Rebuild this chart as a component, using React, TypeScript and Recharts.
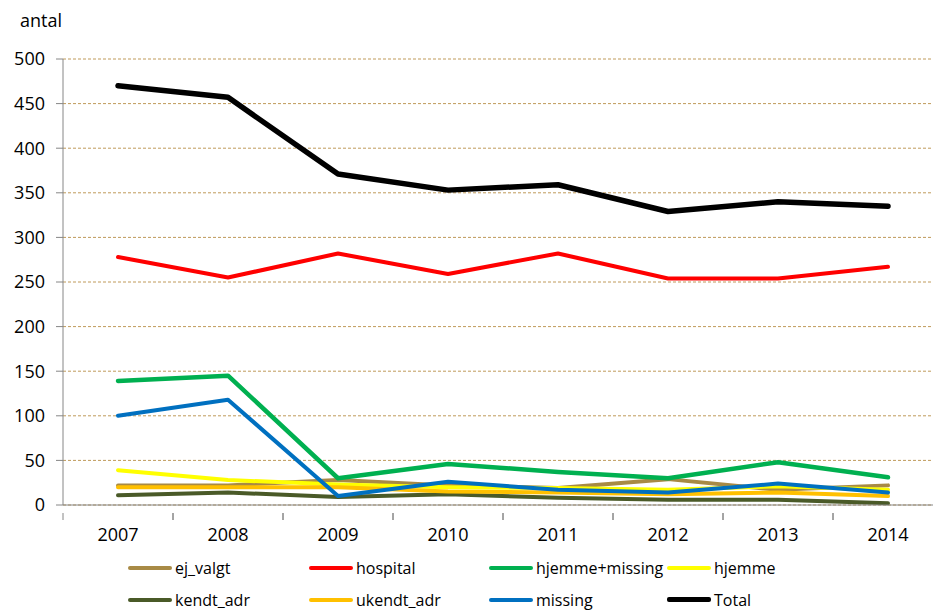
import React from "react";
import { LineChart, Line, XAxis, YAxis, CartesianGrid } from "recharts";

const years = ["2007", "2008", "2009", "2010", "2011", "2012", "2013", "2014"];

const ejValgt = [22, 22, 28, 22, 19, 29, 17, 22];
const hospital = [278, 255, 282, 259, 282, 254, 254, 267];
const hjemmeMissing = [139, 145, 30, 46, 37, 30, 48, 31];
const hjemme = [39, 28, 23, 20, 19, 17, 21, 17];
const kendtAdr = [11, 14, 9, 12, 8, 6, 6, 2];
const ukendtAdr = [20, 20, 20, 15, 14, 12, 14, 10];
const missing = [100, 118, 10, 26, 17, 14, 24, 14];
const total = [470, 457, 371, 353, 359, 329, 340, 335];

const yTicks = [0, 50, 100, 150, 200, 250, 300, 350, 400, 450, 500];

const SERIES = [
    { key: "ej_valgt", values: ejValgt, color: "#A88A45", width: 4 },
    { key: "hospital", values: hospital, color: "#FF0000", width: 4 },
    { key: "hjemme+missing", values: hjemmeMissing, color: "#00B050", width: 4.5 },
    { key: "hjemme", values: hjemme, color: "#FFFF00", width: 4 },
    { key: "kendt_adr", values: kendtAdr, color: "#4A5A28", width: 4 },
    { key: "ukendt_adr", values: ukendtAdr, color: "#FFC000", width: 4 },
    { key: "missing", values: missing, color: "#0070C0", width: 4 },
    { key: "Total", values: total, color: "#000000", width: 5.5 },
];

const data = years.map((year, i) => {
    const row: any = { year };
    SERIES.forEach((s) => { row[s.key] = s.values[i]; });
    return row;
});

// chart geometry (plot area runs past the right edge of the window, like the original)
const CHART_W = 950;
const CHART_H = 611;
const Y_AXIS_W = 63;
const RIGHT = 7;
const HALF_BAND = (CHART_W - Y_AXIS_W - RIGHT) / years.length / 2;
const FONT = "'Open Sans', sans-serif";
const AXIS_GREY = "#868686";

const YearTick = ({ x, y, payload }: any) => (
    <g>
        <line x1={x - HALF_BAND} y1={y} x2={x - HALF_BAND} y2={y + 7} stroke={AXIS_GREY} />
        <line x1={x + HALF_BAND} y1={y} x2={x + HALF_BAND} y2={y + 7} stroke={AXIS_GREY} />
        <text x={x} y={y + 28} textAnchor="middle" fill="#000" fontSize={18} fontFamily={FONT}>
            {payload.value}
        </text>
    </g>
);

export default function App() {
    return (
        <div style={{ position: "absolute", left: 0, top: 0, width: 933, height: 611, overflow: "hidden", background: "#fff", fontFamily: FONT }}>
            <div style={{ position: "absolute", left: 20, top: 8, fontSize: 18, color: "#000" }}>antal</div>
            <LineChart width={CHART_W} height={CHART_H} data={data} margin={{ top: 59, right: RIGHT, left: 0, bottom: 0 }}>
                <CartesianGrid vertical={false} stroke="#BF9A5A" strokeDasharray="3 2" />
                <XAxis
                    dataKey="year"
                    scale="band"
                    height={106}
                    axisLine={{ stroke: AXIS_GREY }}
                    tickLine={false}
                    tick={<YearTick />}
                    interval={0}
                />
                <YAxis
                    width={Y_AXIS_W}
                    domain={[0, 500]}
                    ticks={yTicks}
                    axisLine={{ stroke: AXIS_GREY }}
                    tickLine={{ stroke: AXIS_GREY }}
                    tickSize={7}
                    tickMargin={11}
                    tick={{ fill: "#000", fontSize: 18, fontFamily: FONT }}
                />
                {SERIES.map((s) => (
                    <Line
                        key={s.key}
                        dataKey={s.key}
                        stroke={s.color}
                        strokeWidth={s.width}
                        strokeLinecap="round"
                        strokeLinejoin="round"
                        dot={false}
                        isAnimationActive={false}
                    />
                ))}
            </LineChart>
            <div style={{ position: "absolute", left: 128, top: 556, display: "grid", gridTemplateColumns: "181px 180px 178px 180px", rowGap: 9 }}>
                {SERIES.map((s) => (
                    <div key={s.key} style={{ display: "flex", alignItems: "center", height: 23, fontSize: 16, lineHeight: "20px", color: "#000", whiteSpace: "nowrap" }}>
                        <span style={{ display: "inline-block", width: 44, height: s.key === "Total" ? 5 : 4, borderRadius: 2, background: s.color, marginRight: 3 }} />
                        {s.key}
                    </div>
                ))}
            </div>
        </div>
    );
}
